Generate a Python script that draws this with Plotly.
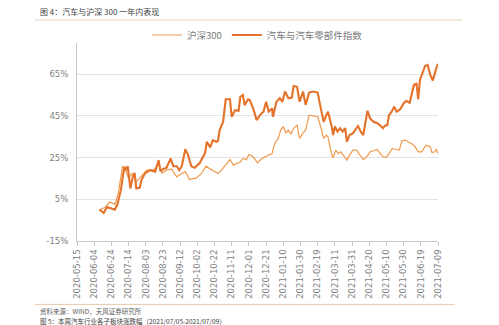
import plotly.graph_objects as go

# ---------------- data ----------------
auto_dates = [
    "2020-06-10", "2020-06-15", "2020-06-19", "2020-06-24", "2020-06-28", "2020-07-01", "2020-07-05",
    "2020-07-09", "2020-07-11", "2020-07-13", "2020-07-16", "2020-07-19", "2020-07-21", "2020-07-23",
    "2020-07-27", "2020-07-29", "2020-08-02", "2020-08-08", "2020-08-14", "2020-08-18", "2020-08-20",
    "2020-08-23", "2020-08-27", "2020-09-01", "2020-09-04", "2020-09-08", "2020-09-11", "2020-09-14",
    "2020-09-18", "2020-09-21", "2020-09-25", "2020-09-29", "2020-10-05", "2020-10-11", "2020-10-13",
    "2020-10-17", "2020-10-20", "2020-10-24", "2020-10-26", "2020-10-28", "2020-11-01", "2020-11-04",
    "2020-11-09", "2020-11-11", "2020-11-15", "2020-11-19", "2020-11-21", "2020-11-24", "2020-11-26",
    "2020-11-30", "2020-12-02", "2020-12-06", "2020-12-10", "2020-12-14", "2020-12-18", "2020-12-21",
    "2020-12-24", "2020-12-28", "2020-12-29", "2021-01-02", "2021-01-06", "2021-01-09", "2021-01-12",
    "2021-01-16", "2021-01-20", "2021-01-22", "2021-01-26", "2021-01-29", "2021-01-31", "2021-02-02",
    "2021-02-05", "2021-02-09", "2021-02-14", "2021-02-19", "2021-02-23", "2021-02-26", "2021-03-01",
    "2021-03-03", "2021-03-07", "2021-03-09", "2021-03-11", "2021-03-14", "2021-03-17", "2021-03-20",
    "2021-03-23", "2021-03-25", "2021-03-28", "2021-04-01", "2021-04-05", "2021-04-07", "2021-04-10",
    "2021-04-13", "2021-04-18", "2021-04-21", "2021-04-25", "2021-04-30", "2021-05-06", "2021-05-08",
    "2021-05-11", "2021-05-13", "2021-05-16", "2021-05-19", "2021-05-22", "2021-05-26", "2021-05-30",
    "2021-06-02", "2021-06-06", "2021-06-08", "2021-06-11", "2021-06-14", "2021-06-16", "2021-06-18",
    "2021-06-21", "2021-06-24", "2021-06-27", "2021-06-30", "2021-07-03", "2021-07-05", "2021-07-07",
    "2021-07-09",
]
auto_values = [
    0.1, -1.5, 1.3, 0.6, 0.0, 2.6, 9.4,
    20.6, 19.0, 20.9, 10.2, 15.8, 17.7, 10.2,
    10.6, 14.2, 17.4, 19.0, 18.3, 23.8, 18.5,
    19.5, 20.1, 24.6, 20.9, 20.9, 19.0, 21.0,
    29.0, 26.5, 20.9, 20.1, 22.5, 27.3, 32.6,
    29.9, 33.4, 32.6, 33.0, 38.2, 42.2, 53.0,
    53.0, 44.6, 47.8, 47.5, 54.2, 55.0, 50.2,
    53.0, 52.6, 48.6, 43.0, 45.4, 47.1, 51.8,
    47.1, 48.6, 44.6, 51.8, 53.5, 51.8, 56.7,
    53.5, 53.8, 59.4, 59.0, 51.8, 54.0, 56.7,
    50.3, 56.2, 56.7, 56.2, 47.9, 42.2, 45.4,
    47.0, 40.6, 35.8, 39.9, 37.5, 39.1, 37.5,
    39.1, 32.6, 35.8, 36.6, 39.1, 40.2, 37.5,
    35.8, 47.5, 43.8, 42.2, 41.4, 39.1, 40.2,
    40.6, 45.4, 47.0, 49.4, 47.0, 48.2, 51.0,
    52.3, 51.3, 54.2, 59.9, 60.4, 53.0, 62.3,
    65.5, 69.0, 69.5, 64.7, 62.0, 65.2, 68.0,
    70.0,
]

hs300_dates = [
    "2020-06-10", "2020-06-17", "2020-06-22", "2020-06-28", "2020-07-02", "2020-07-07", "2020-07-11",
    "2020-07-14", "2020-07-18", "2020-07-23", "2020-07-29", "2020-08-04", "2020-08-12", "2020-08-18",
    "2020-08-22", "2020-08-27", "2020-09-02", "2020-09-08", "2020-09-14", "2020-09-18", "2020-09-23",
    "2020-10-01", "2020-10-07", "2020-10-12", "2020-10-17", "2020-10-22", "2020-10-26", "2020-10-30",
    "2020-11-05", "2020-11-09", "2020-11-13", "2020-11-21", "2020-11-24", "2020-11-28", "2020-12-01",
    "2020-12-06", "2020-12-11", "2020-12-16", "2020-12-20", "2020-12-24", "2020-12-28", "2020-12-31",
    "2021-01-04", "2021-01-07", "2021-01-10", "2021-01-13", "2021-01-16", "2021-01-19", "2021-01-22",
    "2021-01-26", "2021-01-29", "2021-02-02", "2021-02-05", "2021-02-09", "2021-02-14", "2021-02-19",
    "2021-02-23", "2021-02-26", "2021-03-01", "2021-03-03", "2021-03-07", "2021-03-09", "2021-03-12",
    "2021-03-15", "2021-03-18", "2021-03-21", "2021-03-25", "2021-03-28", "2021-04-01", "2021-04-05",
    "2021-04-09", "2021-04-13", "2021-04-17", "2021-04-21", "2021-04-25", "2021-04-29", "2021-05-02",
    "2021-05-06", "2021-05-10", "2021-05-13", "2021-05-17", "2021-05-21", "2021-05-25", "2021-05-28",
    "2021-06-01", "2021-06-04", "2021-06-08", "2021-06-12", "2021-06-16", "2021-06-20", "2021-06-25",
    "2021-06-30", "2021-07-02", "2021-07-05", "2021-07-07", "2021-07-09",
]
hs300_values = [
    0.0, 1.2, 3.7, 2.6, 7.8, 20.9, 18.3,
    15.0, 17.4, 13.4, 16.1, 19.0, 19.0, 22.0,
    17.6, 19.0, 19.5, 15.8, 17.4, 18.3, 14.5,
    15.3, 17.4, 20.9, 19.6, 18.3, 17.4, 19.0,
    22.0, 24.1, 21.4, 22.9, 24.6, 24.0, 26.5,
    25.4, 22.5, 24.6, 25.4, 26.2, 27.0, 31.8,
    34.2, 38.2, 39.8, 36.9, 38.2, 36.3, 39.1,
    40.7, 34.2, 36.9, 38.2, 45.4, 45.0, 44.6,
    39.1, 34.2, 35.8, 35.0, 27.0, 24.9, 28.6,
    27.0, 27.8, 26.2, 23.8, 26.2, 28.6, 28.6,
    26.2, 24.1, 25.4, 27.8, 28.3, 28.9, 27.4,
    25.4, 25.1, 27.0, 29.4, 28.9, 28.6, 33.1,
    33.4, 32.6, 31.8, 30.5, 27.8, 27.8, 31.0,
    30.2, 27.4, 27.8, 28.9, 27.0,
]

x_ticks = [
    "2020-05-15", "2020-06-04", "2020-06-24", "2020-07-14", "2020-08-03", "2020-08-23",
    "2020-09-12", "2020-10-02", "2020-10-22", "2020-11-11", "2020-12-01", "2020-12-21",
    "2021-01-10", "2021-01-30", "2021-02-19", "2021-03-11", "2021-03-31", "2021-04-20",
    "2021-05-10", "2021-05-30", "2021-06-19", "2021-07-09",
]
y_ticks = [-15, 5, 25, 45, 65]
y_labels = ["-15%", "5%", "25%", "45%", "65%"]

series_names = ["沪深300", "汽车与汽车零部件指数"]
title_text = "图 4：汽车与沪深 300 一年内表现"
source_text = "资料来源：WIND，天风证券研究所"
next_title = "图 5：本周汽车行业各子板块涨跌幅（2021/07/05-2021/07/09）"

# ---------------- figure ----------------
W, H = 499, 325
L, R, T, B = 77, 438, 43, 240.7
pw, ph = R - L, B - T


def px(x):
    return (x - L) / pw


def py(y):
    return (B - y) / ph


CJK = "Noto Sans CJK SC"
fig = go.Figure()
fig.add_trace(go.Scatter(
    x=hs300_dates, y=hs300_values, name=series_names[0], mode="lines",
    line=dict(color="#F09A4E", width=1.2)))
fig.add_trace(go.Scatter(
    x=auto_dates, y=auto_values, name=series_names[1], mode="lines",
    line=dict(color="#E5722A", width=2.1)))

fig.update_layout(
    width=W, height=H,
    margin=dict(l=L, r=W - R, t=T, b=H - B, pad=0),
    paper_bgcolor="white", plot_bgcolor="white",
    font=dict(family=CJK, size=9, color="#7f7f7f"),
    showlegend=True,
    legend=dict(orientation="h", x=0.5, xanchor="center", y=py(35), yanchor="middle",
                font=dict(family=CJK, size=9.5, color="#7a7a7a"),
                itemwidth=30, tracegroupgap=0, bgcolor="rgba(0,0,0,0)"),
    xaxis=dict(
        type="date", range=["2020-05-15", "2021-07-09"],
        tickvals=x_ticks, ticktext=x_ticks, tickangle=-90,
        tickfont=dict(family="DejaVu Sans", size=8.5, color="#808080"),
        showgrid=False, showline=True, linecolor="#c8c8c8", linewidth=1,
        ticks="outside", ticklen=4, tickcolor="#c8c8c8", zeroline=False,
    ),
    yaxis=dict(
        range=[-15, 80], tickvals=y_ticks, ticktext=y_labels,
        tickfont=dict(family="DejaVu Sans", size=8.5, color="#808080"),
        showgrid=True, gridcolor="#e3e3e3", gridwidth=1,
        showline=True, linecolor="#c8c8c8", linewidth=1, zeroline=False,
        ticks="", ticklabelstandoff=6,
    ),
)

# title, separator lines, source
fig.add_annotation(text=title_text, xref="paper", yref="paper", x=px(38), y=py(12),
                   xanchor="left", yanchor="middle", showarrow=False,
                   font=dict(family=CJK, size=8, color="#404040"))
fig.add_shape(type="line", xref="paper", yref="paper", x0=px(35), x1=px(462),
              y0=py(20), y1=py(20), line=dict(color="#e6d3bf", width=1))
fig.add_shape(type="line", xref="paper", yref="paper", x0=px(35), x1=px(455),
              y0=py(304), y1=py(304), line=dict(color="#e9c9a8", width=1))
fig.add_annotation(text=source_text, xref="paper", yref="paper", x=px(38), y=py(310.5),
                   xanchor="left", yanchor="middle", showarrow=False,
                   font=dict(family=CJK, size=6.5, color="#606060"))
fig.add_annotation(text=next_title, xref="paper", yref="paper", x=px(38), y=py(320.5),
                   xanchor="left", yanchor="middle", showarrow=False,
                   font=dict(family=CJK, size=6.5, color="#404040"))

fig.write_html("out.html")
